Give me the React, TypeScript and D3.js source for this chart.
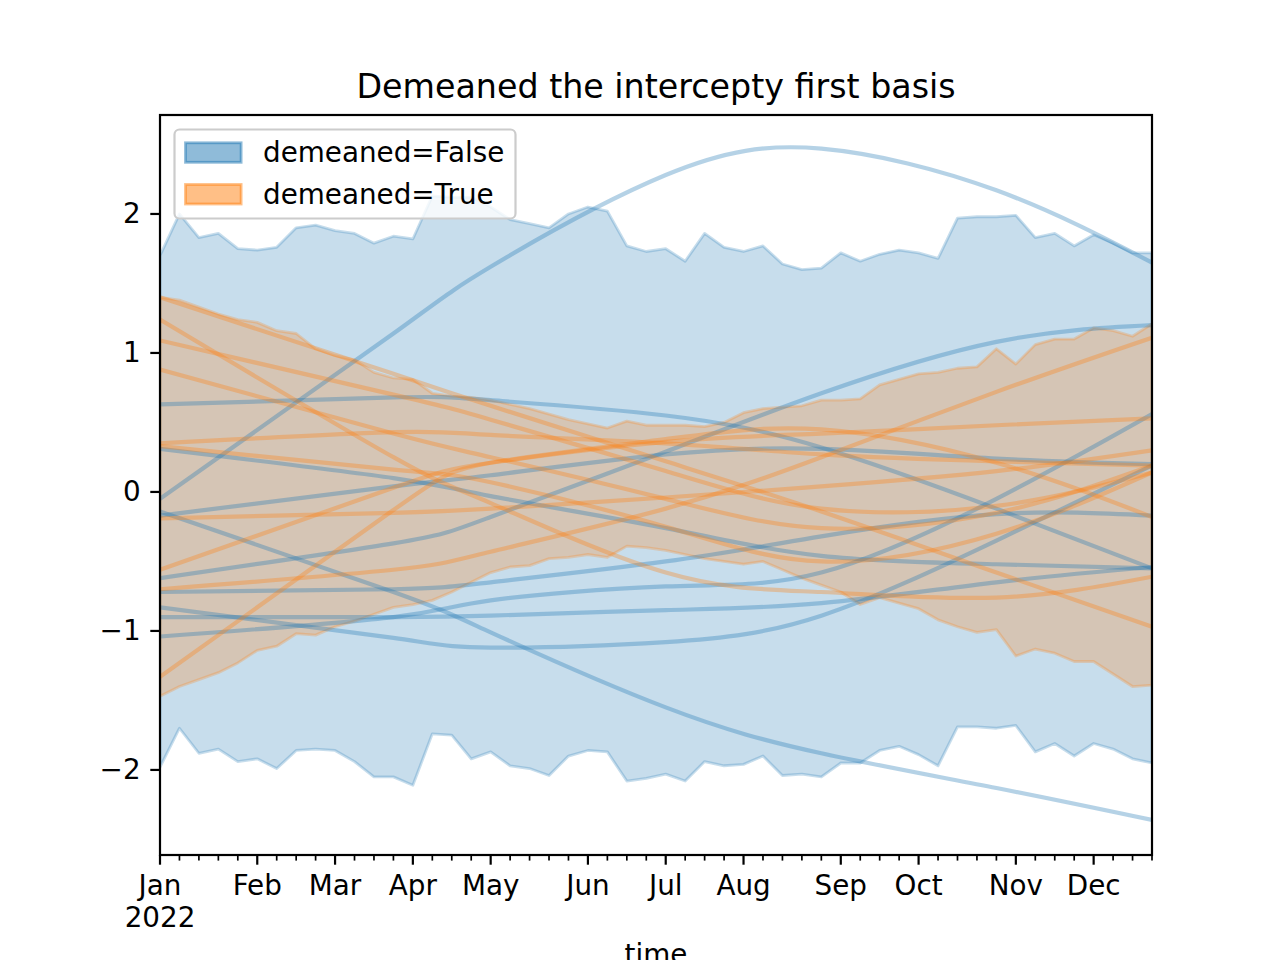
import * as d3 from "d3";
import { useEffect, useRef } from "react";

const WIDTH = 1280;
const HEIGHT = 960;
const MARGIN = { top: 115, right: 128, bottom: 105, left: 160 };

const BLUE = "#1f77b4";
const ORANGE = "#ff7f0e";
const FONT = "DejaVu Sans, sans-serif";

const TITLE = "Demeaned the intercepty first basis";
const X_LABEL = "time";
const LEGEND_LABELS = ["demeaned=False", "demeaned=True"];

const N_WEEKS = 52;
const MONTH_LABELS = ["Jan", "Feb", "Mar", "Apr", "May", "Jun", "Jul", "Aug", "Sep", "Oct", "Nov", "Dec"];
const MONTH_WEEKS = [0, 5, 9, 13, 17, 22, 26, 30, 35, 39, 44, 48];
const Y_TICKS = [-2, -1, 0, 1, 2];

// hdi band, demeaned=False
const FALSE_UPPER = [
  1.7, 2.0, 1.83, 1.86, 1.75, 1.74, 1.76, 1.9, 1.92, 1.88, 1.86, 1.79, 1.84, 1.82, 2.13, 2.12, 2.12, 2.05,
  1.96, 1.93, 1.9, 2.0, 2.05, 2.02, 1.77, 1.73, 1.75, 1.66, 1.86, 1.76, 1.73, 1.77, 1.64, 1.6, 1.61, 1.72,
  1.66, 1.71, 1.74, 1.72, 1.68, 1.97, 1.98, 1.98, 1.99, 1.83, 1.86, 1.77, 1.85, 1.79, 1.72, 1.72,
];
const FALSE_LOWER = [
  -1.98, -1.7, -1.88, -1.85, -1.94, -1.92, -1.99, -1.86, -1.85, -1.86, -1.94, -2.05, -2.05, -2.11, -1.74,
  -1.75, -1.92, -1.87, -1.97, -1.99, -2.04, -1.9, -1.86, -1.87, -2.08, -2.06, -2.03, -2.08, -1.94, -1.97,
  -1.96, -1.9, -2.04, -2.03, -2.05, -1.95, -1.95, -1.86, -1.83, -1.89, -1.97, -1.69, -1.69, -1.7, -1.68,
  -1.87, -1.81, -1.9, -1.81, -1.85, -1.92, -1.95,
];

// hdi band, demeaned=True
const TRUE_UPPER = [
  1.4, 1.38, 1.33, 1.28, 1.24, 1.22, 1.16, 1.14, 1.03, 0.98, 0.95, 0.86, 0.82, 0.81, 0.71, 0.69, 0.68, 0.66,
  0.63, 0.6, 0.56, 0.52, 0.49, 0.46, 0.51, 0.48, 0.48, 0.48, 0.47, 0.5, 0.57, 0.6, 0.61, 0.62, 0.66, 0.66,
  0.67, 0.77, 0.81, 0.85, 0.86, 0.89, 0.9, 1.03, 0.92, 1.06, 1.1, 1.1, 1.18, 1.16, 1.12, 1.21,
];
const TRUE_LOWER = [
  -1.47, -1.4, -1.35, -1.3, -1.23, -1.14, -1.11, -1.02, -1.03, -0.97, -0.93, -0.88, -0.83, -0.81, -0.78,
  -0.72, -0.65, -0.58, -0.54, -0.53, -0.48, -0.47, -0.45, -0.47, -0.39, -0.4, -0.42, -0.45, -0.48, -0.5,
  -0.52, -0.5, -0.56, -0.62, -0.67, -0.72, -0.81, -0.76, -0.8, -0.84, -0.92, -0.97, -1.01, -0.99, -1.18,
  -1.13, -1.16, -1.22, -1.22, -1.31, -1.4, -1.39,
];

// sampled curves (value at SAMPLE_WEEKS)
const SAMPLE_WEEKS = [0, 12, 17, 26, 34, 43, 51];
const FALSE_LINES = [
  [-0.05, 1.14, 1.62, 2.28, 2.47, 2.17, 1.65],
  [-0.14, -0.72, -1.01, -1.55, -1.88, -2.13, -2.36],
  [0.63, 0.68, 0.66, 0.55, 0.32, -0.12, -0.55],
  [0.31, 0.1, -0.03, -0.26, -0.46, -0.52, -0.55],
  [-0.17, 0.04, 0.12, 0.27, 0.31, 0.24, 0.2],
  [-0.62, -0.37, -0.18, 0.29, 0.71, 1.08, 1.2],
  [-0.72, -0.7, -0.65, -0.5, -0.32, -0.16, -0.17],
  [-0.83, -1.05, -1.12, -1.08, -0.89, -0.35, 0.19],
  [-1.04, -0.9, -0.78, -0.68, -0.58, -0.05, 0.56],
  [-0.9, -0.9, -0.89, -0.85, -0.8, -0.65, -0.54],
];
const TRUE_LINES = [
  [1.4, 0.85, 0.62, 0.22, -0.14, -0.58, -0.97],
  [1.24, 0.25, -0.08, -0.58, -0.72, -0.76, -0.61],
  [1.09, 0.7, 0.52, 0.15, -0.12, -0.1, 0.14],
  [0.88, 0.42, 0.25, -0.05, -0.26, -0.15, 0.19],
  [0.35, 0.43, 0.41, 0.35, 0.27, 0.22, 0.19],
  [0.33, 0.16, 0.07, -0.25, -0.5, -0.3, 0.14],
  [-0.19, -0.15, -0.12, -0.04, 0.04, 0.15, 0.3],
  [-0.56, 0.03, 0.21, 0.36, 0.42, 0.48, 0.53],
  [-0.7, -0.56, -0.43, -0.12, 0.25, 0.72, 1.11],
  [-1.33, -0.13, 0.21, 0.38, 0.45, 0.21, -0.18],
];

export default function App() {
  const ref = useRef<SVGSVGElement | null>(null);

  useEffect(() => {
    const svg = d3.select(ref.current);
    svg.selectAll("*").remove();

    const x = d3.scaleLinear().domain([0, N_WEEKS - 1]).range([MARGIN.left, WIDTH - MARGIN.right]);
    const y = d3
      .scaleLinear()
      .domain([-2.612, 2.712])
      .range([HEIGHT - MARGIN.bottom, MARGIN.top]);

    const weeks = d3.range(N_WEEKS);

    const band = (upper: number[], lower: number[]) =>
      d3
        .area<number>()
        .x((i) => x(i))
        .y0((i) => y(lower[i]))
        .y1((i) => y(upper[i]))(weeks);

    const curve = d3
      .line<[number, number]>()
      .x((d) => x(d[0]))
      .y((d) => y(d[1]))
      .curve(d3.curveNatural);

    const clipId = "plot-clip";
    svg
      .append("clipPath")
      .attr("id", clipId)
      .append("rect")
      .attr("x", MARGIN.left)
      .attr("y", MARGIN.top)
      .attr("width", WIDTH - MARGIN.left - MARGIN.right)
      .attr("height", HEIGHT - MARGIN.top - MARGIN.bottom);

    const plot = svg.append("g").attr("clip-path", `url(#${clipId})`);

    const drawBand = (upper: number[], lower: number[], color: string) => {
      plot
        .append("path")
        .attr("d", band(upper, lower))
        .attr("fill", color)
        .attr("fill-opacity", 0.25)
        .attr("stroke", color)
        .attr("stroke-opacity", 0.25)
        .attr("stroke-width", 2.8)
        .attr("stroke-linejoin", "round");
    };

    const drawLines = (lines: number[][], color: string) => {
      lines.forEach((vals) => {
        const pts = SAMPLE_WEEKS.map((w, k) => [w, vals[k]] as [number, number]);
        plot
          .append("path")
          .attr("d", curve(pts))
          .attr("fill", "none")
          .attr("stroke", color)
          .attr("stroke-opacity", 0.33)
          .attr("stroke-width", 4.2);
      });
    };

    drawBand(FALSE_UPPER, FALSE_LOWER, BLUE);
    drawBand(TRUE_UPPER, TRUE_LOWER, ORANGE);
    drawLines(FALSE_LINES, BLUE);
    drawLines(TRUE_LINES, ORANGE);

    // axes frame
    svg
      .append("rect")
      .attr("x", MARGIN.left)
      .attr("y", MARGIN.top)
      .attr("width", WIDTH - MARGIN.left - MARGIN.right)
      .attr("height", HEIGHT - MARGIN.top - MARGIN.bottom)
      .attr("fill", "none")
      .attr("stroke", "#000")
      .attr("stroke-width", 2.2);

    // y axis
    const yAxis = svg.append("g");
    Y_TICKS.forEach((t) => {
      yAxis
        .append("line")
        .attr("x1", MARGIN.left)
        .attr("x2", MARGIN.left - 9.7)
        .attr("y1", y(t))
        .attr("y2", y(t))
        .attr("stroke", "#000")
        .attr("stroke-width", 2.2);
      yAxis
        .append("text")
        .attr("x", MARGIN.left - 19.4)
        .attr("y", y(t))
        .attr("text-anchor", "end")
        .attr("dominant-baseline", "central")
        .style("font-family", FONT)
        .style("font-size", "27.8px")
        .text(t < 0 ? `\u2212${Math.abs(t)}` : `${t}`);
    });

    // x axis: weekly minor ticks, monthly major ticks
    const bottom = HEIGHT - MARGIN.bottom;
    const xAxis = svg.append("g");
    weeks.forEach((w) => {
      const major = MONTH_WEEKS.includes(w);
      xAxis
        .append("line")
        .attr("x1", x(w))
        .attr("x2", x(w))
        .attr("y1", bottom)
        .attr("y2", bottom + (major ? 9.7 : 5.6))
        .attr("stroke", "#000")
        .attr("stroke-width", major ? 2.2 : 1.7);
    });
    MONTH_WEEKS.forEach((w, k) => {
      xAxis
        .append("text")
        .attr("x", x(w))
        .attr("y", bottom + 19.4)
        .attr("text-anchor", "middle")
        .attr("dominant-baseline", "hanging")
        .style("font-family", FONT)
        .style("font-size", "27.8px")
        .text(MONTH_LABELS[k]);
      if (k === 0) {
        xAxis
          .append("text")
          .attr("x", x(w))
          .attr("y", bottom + 51)
          .attr("text-anchor", "middle")
          .attr("dominant-baseline", "hanging")
          .style("font-family", FONT)
          .style("font-size", "27.8px")
          .text("2022");
      }
    });

    svg
      .append("text")
      .attr("x", (MARGIN.left + WIDTH - MARGIN.right) / 2)
      .attr("y", 943)
      .attr("text-anchor", "middle")
      .attr("dominant-baseline", "hanging")
      .style("font-family", FONT)
      .style("font-size", "27.8px")
      .text(X_LABEL);

    svg
      .append("text")
      .attr("x", (MARGIN.left + WIDTH - MARGIN.right) / 2)
      .attr("y", 98)
      .attr("text-anchor", "middle")
      .style("font-family", FONT)
      .style("font-size", "33.3px")
      .text(TITLE);

    // legend
    const legend = svg.append("g");
    legend
      .append("rect")
      .attr("x", 174.5)
      .attr("y", 129.5)
      .attr("width", 341)
      .attr("height", 89)
      .attr("rx", 5)
      .attr("fill", "#fff")
      .attr("fill-opacity", 0.8)
      .attr("stroke", "#cccccc")
      .attr("stroke-width", 2.2);
    [BLUE, ORANGE].forEach((c, k) => {
      const cy = 152.5 + k * 41.7;
      legend
        .append("rect")
        .attr("x", 185.5)
        .attr("y", cy - 9.7)
        .attr("width", 55.6)
        .attr("height", 19.5)
        .attr("fill", c)
        .attr("fill-opacity", 0.5)
        .attr("stroke", c)
        .attr("stroke-opacity", 0.5)
        .attr("stroke-width", 2.8);
      legend
        .append("text")
        .attr("x", 263)
        .attr("y", cy)
        .attr("dominant-baseline", "central")
        .style("font-family", FONT)
        .style("font-size", "27.8px")
        .text(LEGEND_LABELS[k]);
    });
  }, []);

  return (
    <div style={{ position: "absolute", left: 0, top: 0, width: WIDTH, height: HEIGHT, background: "#fff" }}>
      <svg ref={ref} width={WIDTH} height={HEIGHT} />
    </div>
  );
}
